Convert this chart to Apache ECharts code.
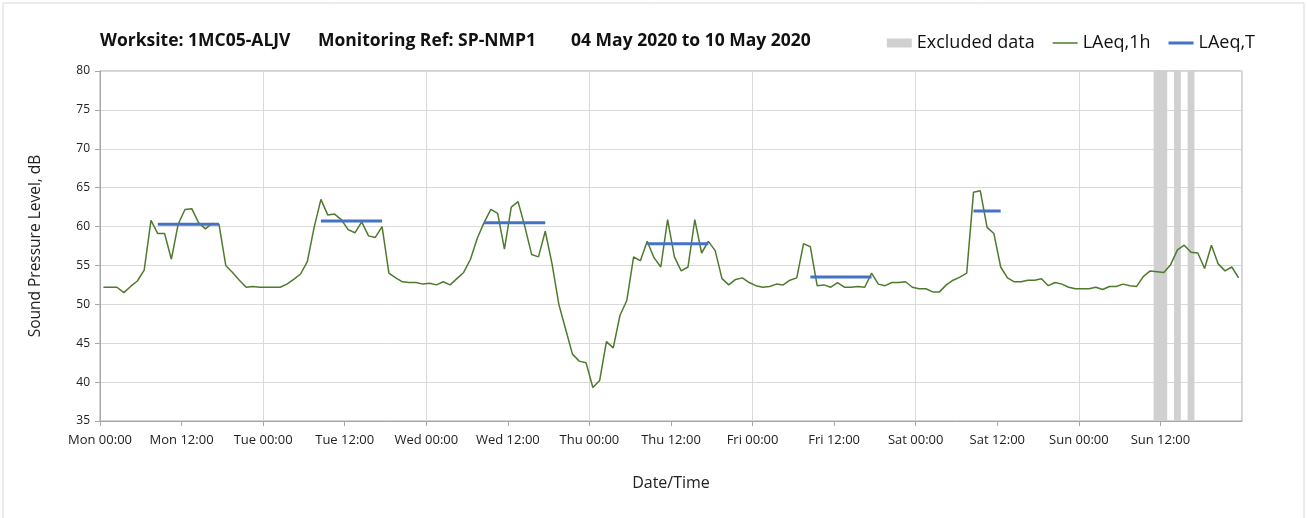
<!DOCTYPE html>
<html>
<head>
<meta charset="utf-8">
<title>SP-NMP1 noise</title>
<script src="https://cdn.jsdelivr.net/npm/echarts@6/dist/echarts.min.js"></script>
<style>
	html, body { margin: 0; padding: 0; background: #fff; }
	#chart { width: 1307px; height: 518px; }
</style>
</head>
<body>
<div id="chart"></div>
<script>
// hourly LAeq,1h, Mon 00:00 .. Sun 23:00 (plotted at the middle of each hour)
var laeq1h = [
	52.2, 52.2, 52.2, 51.5, 52.3, 53.0, 54.4, 60.8, 59.1, 59.1, 55.8, 60.3,
	62.2, 62.3, 60.5, 59.7, 60.4, 60.3, 55.0, 54.1, 53.1, 52.2, 52.3, 52.2,
	52.2, 52.2, 52.2, 52.6, 53.2, 53.9, 55.5, 59.9, 63.5, 61.5, 61.6, 60.9,
	59.6, 59.2, 60.6, 58.8, 58.6, 60.0, 54.0, 53.4, 52.9, 52.8, 52.8, 52.6,
	52.7, 52.5, 52.9, 52.5, 53.3, 54.1, 55.8, 58.5, 60.5, 62.2, 61.7, 57.1,
	62.5, 63.2, 60.0, 56.4, 56.1, 59.4, 55.2, 50.0, 46.8, 43.6, 42.7, 42.5,
	39.3, 40.2, 45.2, 44.4, 48.6, 50.5, 56.1, 55.6, 58.1, 56.0, 54.8, 60.9,
	56.1, 54.3, 54.8, 60.9, 56.6, 58.1, 56.9, 53.3, 52.5, 53.2, 53.4, 52.8,
	52.4, 52.2, 52.3, 52.6, 52.5, 53.1, 53.4, 57.8, 57.4, 52.4, 52.5, 52.2,
	52.8, 52.2, 52.2, 52.3, 52.2, 54.0, 52.6, 52.4, 52.8, 52.8, 52.9, 52.2,
	52.0, 52.0, 51.6, 51.6, 52.5, 53.1, 53.5, 54.0, 64.4, 64.6, 59.9, 59.1,
	54.8, 53.4, 52.9, 52.9, 53.1, 53.1, 53.3, 52.4, 52.8, 52.6, 52.2, 52.0,
	52.0, 52.0, 52.2, 51.9, 52.3, 52.3, 52.6, 52.4, 52.3, 53.6, 54.3, 54.2,
	54.1, 55.1, 57.0, 57.6, 56.7, 56.6, 54.6, 57.6, 55.2, 54.3, 54.8, 53.4
];

// LAeq,T daytime periods (hours from Mon 00:00)
var periodStart = [8.5, 32.5, 56.5, 80.5, 104.5, 128.5];
var periodEnd   = [17.5, 41.5, 65.5, 89.5, 113.5, 132.5];
var periodLevel = [60.3, 60.7, 60.5, 57.8, 53.5, 62.0];

// excluded data bands (hours from Mon 00:00)
var excludedStart = [155, 158, 160];
var excludedEnd   = [157, 159, 161];

var dayNames = ['Mon', 'Tue', 'Wed', 'Thu', 'Fri', 'Sat', 'Sun'];

var font = '"Open Sans", sans-serif';

var mycharts = echarts.init(document.getElementById('chart'));

var lineData = laeq1h.map(function (v, i) {
	return [i + 0.5, v];
});

var bands = excludedStart.map(function (s, i) {
	return [{ xAxis: s }, { xAxis: excludedEnd[i] }];
});

var series = [
	{
		name: 'Excluded data',
		type: 'line',
		data: [],
		color: '#d0d0d0',
		z: 1,
		markArea: {
			silent: true,
			itemStyle: { color: '#d0d0d0', opacity: 1 },
			data: bands
		}
	},
	{
		name: 'LAeq,1h',
		type: 'line',
		data: lineData,
		symbol: 'none',
		color: '#4e7a2e',
		lineStyle: { width: 1.5, color: '#4e7a2e' },
		z: 3
	}
];

periodStart.forEach(function (s, i) {
	series.push({
		name: 'LAeq,T',
		type: 'line',
		symbol: 'none',
		color: '#4472c4',
		lineStyle: { width: 3, color: '#4472c4' },
		z: 4,
		data: [[s, periodLevel[i]], [periodEnd[i], periodLevel[i]]]
	});
});

var titleStyle = { fontFamily: font, fontSize: 17.5, fontWeight: 'bold', color: '#111' };

var option = {
	animation: false,
	graphic: [{
		type: 'rect',
		shape: { x: 3, y: 3, width: 1301, height: 530 },
		style: { fill: 'none', stroke: '#d9d9d9', lineWidth: 1 },
		silent: true
	}],
	title: [
		{ text: 'Worksite: 1MC05-ALJV', left: 100, top: 32, padding: 0, textStyle: titleStyle },
		{ text: 'Monitoring Ref: SP-NMP1', left: 318, top: 32, padding: 0, textStyle: titleStyle },
		{ text: '04 May 2020 to 10 May 2020', left: 571, top: 32, padding: 0, textStyle: titleStyle }
	],
	legend: {
		right: 47,
		top: 29,
		itemWidth: 25,
		itemHeight: 9,
		itemGap: 18,
		textStyle: { fontFamily: font, fontSize: 18, color: '#111' },
		data: [
			{ name: 'Excluded data', icon: 'rect' },
			{ name: 'LAeq,1h', icon: 'path://M0,0 L100,0 L100,6 L0,6 Z' },
			{ name: 'LAeq,T', icon: 'path://M0,0 L100,0 L100,12 L0,12 Z' }
		]
	},
	grid: {
		left: 100,
		right: 65,
		top: 71,
		bottom: 97,
		show: true,
		borderColor: '#a6a6a6',
		borderWidth: 1
	},
	xAxis: [
		{
			type: 'value',
			min: 0,
			max: 168,
			interval: 12,
			name: 'Date/Time',
			nameLocation: 'middle',
			nameGap: 54,
			nameTextStyle: { fontFamily: font, fontSize: 16, color: '#222' },
			axisLine: { lineStyle: { color: '#a6a6a6', width: 1 } },
			axisTick: { show: true, length: 5, lineStyle: { color: '#a6a6a6' } },
			axisLabel: {
				fontFamily: font,
				fontSize: 13,
				color: '#222',
				margin: 13,
				showMaxLabel: false,
				formatter: function (v) {
					var d = Math.floor(v / 24);
					if (d >= 7) return '';
					return dayNames[d] + (v % 24 ? ' 12:00' : ' 00:00');
				}
			},
			splitLine: { show: false }
		},
		{
			// day gridlines only
			type: 'value',
			min: 0,
			max: 168,
			interval: 24,
			position: 'bottom',
			axisLine: { show: false },
			axisTick: { show: false },
			axisLabel: { show: false },
			splitLine: { show: true, lineStyle: { color: '#d9d9d9', width: 1 } }
		}
	],
	yAxis: {
		type: 'value',
		min: 35,
		max: 80,
		interval: 5,
		name: 'Sound Pressure Level, dB',
		nameLocation: 'middle',
		nameGap: 56,
		nameTextStyle: { fontFamily: font, fontSize: 15.5, color: '#222' },
		axisLine: { show: true, lineStyle: { color: '#a6a6a6', width: 1 } },
		axisTick: { show: true, length: 5, lineStyle: { color: '#a6a6a6' } },
		axisLabel: { fontFamily: font, fontSize: 12, color: '#222', margin: 10 },
		splitLine: { lineStyle: { color: '#d9d9d9', width: 1 } }
	},
	series: series
};

mycharts.setOption(option);
</script>
</body>
</html>
